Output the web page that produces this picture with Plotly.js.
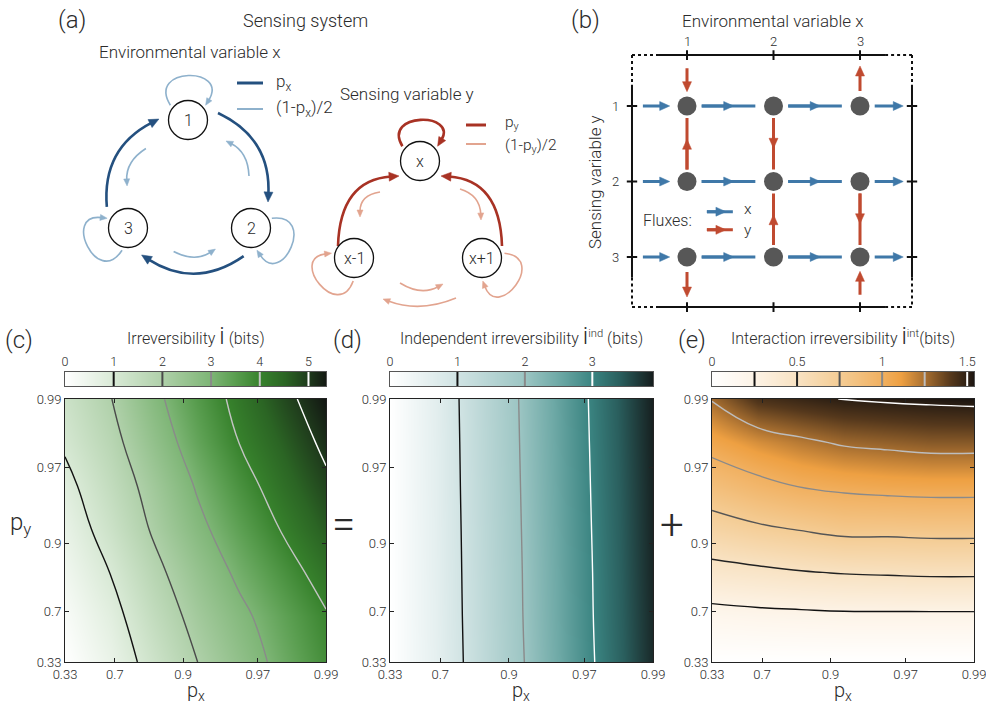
<!DOCTYPE html>
<html><head><meta charset="utf-8">
<script src="https://cdn.plot.ly/plotly-3.0.1.min.js"></script>
<style>html,body{margin:0;padding:0;background:#fff}#chart{width:986px;height:707px}</style>
</head><body><div id="chart"></div>
<script>
// ================= DATA =================
const pxGrid = [0.33, 0.68, 0.84, 0.92, 0.96, 0.98, 0.99];
const pyGrid = [0.33, 0.68, 0.84, 0.92, 0.96, 0.98, 0.99];
const tickP = [0.33, 0.7, 0.9, 0.97, 0.99];
const tickPLabels = ['0.33', '0.7', '0.9', '0.97', '0.99'];

// rows: py (bottom -> top), columns: px (left -> right)
const irrTotal = [
  [0.00, 0.55, 1.28, 1.99, 2.61, 3.22, 3.80],
  [0.17, 0.76, 1.54, 2.24, 2.84, 3.40, 3.95],
  [0.38, 1.02, 1.80, 2.50, 3.15, 3.71, 4.28],
  [0.58, 1.31, 2.09, 2.81, 3.45, 4.05, 4.62],
  [0.80, 1.54, 2.29, 3.06, 3.73, 4.33, 4.88],
  [1.10, 1.77, 2.58, 3.35, 4.02, 4.57, 5.14],
  [1.30, 1.98, 2.82, 3.55, 4.21, 4.81, 5.38]
];
const irrInd = [
  [0, 0.550, 1.270, 1.980, 2.600, 3.210, 3.80],
  [0, 0.560, 1.290, 2.000, 2.620, 3.230, 3.81],
  [0, 0.570, 1.300, 2.010, 2.630, 3.240, 3.83],
  [0, 0.575, 1.315, 2.025, 2.645, 3.255, 3.84],
  [0, 0.585, 1.330, 2.040, 2.660, 3.270, 3.85],
  [0, 0.590, 1.345, 2.055, 2.675, 3.285, 3.87],
  [0, 0.600, 1.360, 2.070, 2.690, 3.300, 3.88]
];
const irrInt = [
  [0.00, 0.00, 0.00, 0.000, 0.00, 0.00, 0.00],
  [0.18, 0.20, 0.21, 0.220, 0.22, 0.22, 0.22],
  [0.43, 0.46, 0.49, 0.510, 0.52, 0.53, 0.53],
  [0.66, 0.72, 0.76, 0.800, 0.80, 0.81, 0.81],
  [0.87, 0.95, 1.01, 1.040, 1.06, 1.07, 1.07],
  [1.07, 1.16, 1.22, 1.270, 1.29, 1.31, 1.31],
  [1.26, 1.43, 1.47, 1.505, 1.52, 1.53, 1.54]
];
const levelsTotal = [1, 2, 3, 4, 5];
const levelsInd = [1, 2, 3];
const levelsInt = [0.25, 0.5, 0.75, 1, 1.25, 1.5];
const cbTicksTotal = [0, 1, 2, 3, 4, 5];
const cbTicksInd = [0, 1, 2, 3];
const cbTicksInt = [0, 0.5, 1, 1.5];
const cbMaxTotal = 5.36, cbMaxInd = 3.9, cbMaxInt = 1.54;

// panel (b) grid
const gridCols = [1, 2, 3];
const gridRows = [1, 2, 3];
const xFluxFrom = [0.5, 1, 2, 3];
const xFluxTo = [1, 2, 3, 3.5];
const yFluxCol = [1, 1, 1, 2, 2, 3, 3, 3];
const yFluxFrom = [0.5, 2, 3, 1, 3, 1, 2, 3.5];
const yFluxTo = [1, 1, 3.5, 2, 2, 0.5, 3, 3];

// ================= STYLE =================
const FONT = 'Roboto, "Liberation Sans", Arial, sans-serif';
const TXT = '#2b2b2b';
const greenScale = [[0,'#ffffff'],[0.187,'#d8e9d5'],[0.373,'#afd0a9'],[0.56,'#7db575'],[0.65,'#5a9e50'],[0.746,'#37822c'],[0.84,'#2b6524'],[0.93,'#1f3b1c'],[1,'#131813']];
const tealScale = [[0,'#ffffff'],[0.256,'#d0e3e3'],[0.513,'#9cc5c3'],[0.64,'#6ea9a6'],[0.77,'#3a8481'],[0.87,'#2a5f5e'],[1,'#151c1c']];
const orangeScale = [[0,'#ffffff'],[0.162,'#fdf3e6'],[0.325,'#f8e2c2'],[0.487,'#f4cc94'],[0.65,'#f1b060'],[0.72,'#eea042'],[0.81,'#a86f30'],[0.91,'#55381c'],[1,'#1c1510']];
const lineColTotal = ['#111111','#4a4a4a','#8a8a8a','#c4c4c4','#ffffff'];
const lineColInd = ['#111111','#8a8a8a','#ffffff'];
const lineColInt = ['#111111','#222222','#555555','#8a8a8a','#bdbdbd','#ffffff'];

const U = p => -Math.log10(1 - p);
const uMin = U(0.33), uMax = U(0.99);

const traces = [];
const shapes = [];
const annotations = [];

function addPanel(z, levels, lineCols, cs, zmax, xa, ya) {
  const xs = pxGrid.map(U), ys = pyGrid.map(U);
  traces.push({type:'heatmap', x:xs, y:ys, z:z, zsmooth:'best', colorscale:cs, zmin:0, zmax:zmax,
    showscale:false, xaxis:xa, yaxis:ya, hoverinfo:'skip'});
  levels.forEach((L, i) => {
    traces.push({type:'contour', x:xs, y:ys, z:z, autocontour:false,
      contours:{coloring:'none', start:L, end:L + 1e-6, size:1, showlabels:false},
      line:{color:lineCols[i], width:1.4, smoothing:1.3}, showscale:false,
      xaxis:xa, yaxis:ya, hoverinfo:'skip'});
  });
}
function addColorbar(levels, lineCols, cs, zmax, xa, ya) {
  traces.push({type:'heatmap', x:[0, zmax], y:[0, 1], z:[[0, zmax],[0, zmax]], zsmooth:'best',
    colorscale:cs, zmin:0, zmax:zmax, showscale:false, xaxis:xa, yaxis:ya, hoverinfo:'skip'});
  levels.forEach((L, i) => {
    shapes.push({type:'line', xref:xa, yref:ya, x0:L, x1:L, y0:0, y1:1, line:{color:lineCols[i], width:2}});
  });
}
addPanel(irrTotal, levelsTotal, lineColTotal, greenScale, cbMaxTotal, 'x', 'y');
addPanel(irrInd, levelsInd, lineColInd, tealScale, cbMaxInd, 'x2', 'y2');
addPanel(irrInt, levelsInt, lineColInt, orangeScale, cbMaxInt, 'x3', 'y3');
addColorbar(levelsTotal, lineColTotal, greenScale, cbMaxTotal, 'x4', 'y4');
addColorbar(levelsInd, lineColInd, tealScale, cbMaxInd, 'x5', 'y5');
addColorbar(levelsInt, lineColInt, orangeScale, cbMaxInt, 'x6', 'y6');

// ============ panel (b): grid of states ============
const W = 986, H = 707;
const bXdom = [600.5, 929.2], bXrange = [0, 3.8];
const bYdom = [30.5, 332.5], bYrange = [4, 0];
const PXC = (bXdom[1] - bXdom[0]) / (bXrange[1] - bXrange[0]);
const PXR = (bYdom[1] - bYdom[0]) / (bYrange[0] - bYrange[1]);
const BLUE = '#3f78a8', RED = '#c04a30';
const nodeX = [], nodeY = [];
gridRows.forEach(r => gridCols.forEach(c => { nodeX.push(c); nodeY.push(r); }));
traces.push({type:'scatter', mode:'markers', x:nodeX, y:nodeY, xaxis:'x7', yaxis:'y7',
  marker:{size:19, color:'#575757'}, hoverinfo:'skip', showlegend:false});

function bLine(x0, y0, x1, y1, color) {
  shapes.push({type:'line', xref:'x7', yref:'y7', x0:x0, y0:y0, x1:x1, y1:y1, line:{color:color, width:3}});
}
function bArrow(x0, y0, x1, y1, color) {
  const dxp = (x1 - x0) * PXC, dyp = (y1 - y0) * PXR, L = Math.hypot(dxp, dyp);
  const ux = dxp / L, uy = dyp / L, hl = 10, hw = 9;
  bLine(x0, y0, x1 - ux * hl * 0.7 / PXC, y1 - uy * hl * 0.7 / PXR, color);
  const bx = x1 - ux * hl / PXC, by = y1 - uy * hl / PXR, qx = -uy, qy = ux;
  shapes.push({type:'path', xref:'x7', yref:'y7',
    path:`M${x1},${y1} L${bx + qx * hw / 2 / PXC},${by + qy * hw / 2 / PXR} L${bx - qx * hw / 2 / PXC},${by - qy * hw / 2 / PXR} Z`,
    fillcolor:color, line:{color:color, width:0.5}});
}
// horizontal (x) fluxes
gridRows.forEach(r => {
  xFluxFrom.forEach((f, i) => {
    const t = xFluxTo[i];
    if (f % 1 !== 0) { bArrow(t - 0.51, r, t - 0.2, r, BLUE); }
    else if (t % 1 !== 0) { bArrow(f + 0.17, r, f + 0.5, r, BLUE); }
    else { bLine(f + 0.17, r, t - 0.21, r, BLUE); bArrow(f + 0.17, r, (f + t) / 2 + 0.04, r, BLUE); }
  });
});
// vertical (y) fluxes
yFluxCol.forEach((c, i) => {
  const f = yFluxFrom[i], t = yFluxTo[i], d = Math.sign(t - f);
  if (f % 1 !== 0) { bArrow(c, f, c, t - d * 0.19, RED); }
  else if (t % 1 !== 0) { bArrow(c, f + d * 0.2, c, f + d * 0.53, RED); }
  else { bLine(c, f + d * 0.16, c, t - d * 0.16, RED); bArrow(c, f + d * 0.16, c, (f + t) / 2 + d * 0.06, RED); }
});
// legend of fluxes
bLine(1.23, 2.40, 1.53, 2.40, BLUE); bArrow(1.23, 2.40, 1.45, 2.40, BLUE);
bLine(1.23, 2.64, 1.53, 2.64, RED); bArrow(1.23, 2.64, 1.45, 2.64, RED);
// frame
const fL = 0.364, fR = 3.601, fT = 0.325, fB = 3.663;
const solidX = [0.665, 3.29], solidY = [0.72, 3.27];
[fT, fB].forEach(yy => {
  shapes.push({type:'line', xref:'x7', yref:'y7', x0:solidX[0], x1:solidX[1], y0:yy, y1:yy, line:{color:'#111', width:2}});
  shapes.push({type:'line', xref:'x7', yref:'y7', x0:fL, x1:solidX[0], y0:yy, y1:yy, line:{color:'#111', width:2, dash:'dot'}});
  shapes.push({type:'line', xref:'x7', yref:'y7', x0:solidX[1], x1:fR, y0:yy, y1:yy, line:{color:'#111', width:2, dash:'dot'}});
  gridCols.forEach(c => shapes.push({type:'line', xref:'x7', yref:'y7', x0:c, x1:c, y0:yy - 0.065, y1:yy + 0.065, line:{color:'#111', width:2}}));
});
[fL, fR].forEach(xx => {
  shapes.push({type:'line', xref:'x7', yref:'y7', x0:xx, x1:xx, y0:solidY[0], y1:solidY[1], line:{color:'#111', width:2}});
  shapes.push({type:'line', xref:'x7', yref:'y7', x0:xx, x1:xx, y0:fT, y1:solidY[0], line:{color:'#111', width:2, dash:'dot'}});
  shapes.push({type:'line', xref:'x7', yref:'y7', x0:xx, x1:xx, y0:solidY[1], y1:fB, line:{color:'#111', width:2, dash:'dot'}});
  gridRows.forEach(r => shapes.push({type:'line', xref:'x7', yref:'y7', x0:xx - 0.06, x1:xx + 0.06, y0:r, y1:r, line:{color:'#111', width:2}}));
});
gridCols.forEach(c => annotations.push({xref:'x7', yref:'y7', x:c, y:fT - 0.18, text:String(c), showarrow:false, font:{size:13, color:TXT}}));
gridRows.forEach(r => annotations.push({xref:'x7', yref:'y7', x:fL - 0.19, y:r, text:String(r), showarrow:false, font:{size:13, color:TXT}}));

// ============ panel (a): cycle diagrams (pixel overlay axis) ============
function pol(N, r, deg) { const a = deg * Math.PI / 180; return [N[0] + r * Math.cos(a), N[1] + r * Math.sin(a)]; }
function rot(p, c, deg) { const a = deg * Math.PI / 180, dx = p[0] - c[0], dy = p[1] - c[1];
  return [c[0] + dx * Math.cos(a) - dy * Math.sin(a), c[1] + dx * Math.sin(a) + dy * Math.cos(a)]; }
function head(T, ux, uy, color, hl, hw) {
  const B = [T[0] - ux * hl, T[1] - uy * hl], qx = -uy, qy = ux;
  shapes.push({type:'path', xref:'x8', yref:'y8',
    path:`M${T[0]},${T[1]} L${B[0] + qx * hw / 2},${B[1] + qy * hw / 2} L${B[0] - qx * hw / 2},${B[1] - qy * hw / 2} Z`,
    fillcolor:color, line:{color:color, width:0.5}});
}
function qArrow(P0, C, P1, color, lw, hl, hw) {
  const dx = P1[0] - C[0], dy = P1[1] - C[1], L = Math.hypot(dx, dy), ux = dx / L, uy = dy / L;
  const E = [P1[0] - ux * hl * 0.8, P1[1] - uy * hl * 0.8];
  shapes.push({type:'path', xref:'x8', yref:'y8', path:`M${P0[0]},${P0[1]} Q${C[0]},${C[1]} ${E[0]},${E[1]}`,
    line:{color:color, width:lw}, fillcolor:'rgba(0,0,0,0)'});
  head(P1, ux, uy, color, hl, hw);
}
function selfLoop(N, phi, color, lw, hl, hw, rc) {
  const S = pol(N, 23, phi - 50), C1 = pol(N, rc, phi - 38), C2 = pol(N, rc, phi + 38), E = pol(N, 23, phi + 50);
  const dx = E[0] - C2[0], dy = E[1] - C2[1], L = Math.hypot(dx, dy), ux = dx / L, uy = dy / L;
  const E2 = [E[0] - ux * hl * 0.8, E[1] - uy * hl * 0.8];
  shapes.push({type:'path', xref:'x8', yref:'y8',
    path:`M${S[0]},${S[1]} C${C1[0]},${C1[1]} ${C2[0]},${C2[1]} ${E2[0]},${E2[1]}`,
    line:{color:color, width:lw}, fillcolor:'rgba(0,0,0,0)'});
  head(E, ux, uy, color, hl, hw);
}
function node(N, label) {
  shapes.push({type:'circle', xref:'x8', yref:'y8', x0:N[0] - 19.5, x1:N[0] + 19.5, y0:N[1] - 19.5, y1:N[1] + 19.5,
    line:{color:'#111', width:1.3}, fillcolor:'#fff'});
  annotations.push({xref:'x8', yref:'y8', x:N[0], y:N[1], text:label, showarrow:false, font:{size:16, color:TXT}});
}
function txt(x, y, text, size, extra) {
  annotations.push(Object.assign({xref:'x8', yref:'y8', x:x, y:y, text:text, showarrow:false,
    font:{size:size, color:TXT}}, extra || {}));
}
// environmental variable x
const ENV_D = '#24507f', ENV_L = '#8eb1cc';
const envC = [189.5, 192];
const envNodes = [[188, 120], [251, 228], [128, 228]];
const envLabels = ['1', '2', '3'];
const envLoop = [-90, 25, 155];
[0, 120, 240].forEach(a => {
  qArrow(rot([218, 113], envC, a), rot([271, 138], envC, a), rot([268, 202], envC, a), ENV_D, 2.6, 10, 9);
  qArrow(rot([249, 176], envC, a), rot([248, 152], envC, a), rot([226, 141], envC, a), ENV_L, 1.6, 7, 6);
});
envNodes.forEach((N, i) => { selfLoop(N, envLoop[i], ENV_L, 1.6, 7, 6, 68); node(N, envLabels[i]); });
shapes.push({type:'line', xref:'x8', yref:'y8', x0:237, x1:263, y0:83, y1:83, line:{color:ENV_D, width:3}});
shapes.push({type:'line', xref:'x8', yref:'y8', x0:237, x1:263, y0:109, y1:109, line:{color:ENV_L, width:2}});
txt(274, 82, 'p<sub>x</sub>', 17, {xanchor:'left'});
txt(274, 108, '(1-p<sub>x</sub>)/2', 17, {xanchor:'left'});
// sensing variable y
const SEN_D = '#a83224', SEN_L = '#e2a48f';
const senNodes = [[420, 161], [354, 258], [482, 258]];
const senLabels = ['x', 'x-1', 'x+1'];
const senLoop = [-90, 142, 38];
qArrow([338, 246], [340, 180], [399, 176], SEN_D, 2.6, 10, 9);
qArrow([502, 246], [500, 180], [441, 176], SEN_D, 2.6, 10, 9);
qArrow([380, 192], [360, 195], [360, 217], SEN_L, 1.6, 7, 6);
qArrow([460, 189], [480, 195], [481, 220], SEN_L, 1.6, 7, 6);
qArrow([400, 283], [421, 296], [443, 284], SEN_L, 1.6, 7, 6);
qArrow([456, 298], [420, 313], [383, 299], SEN_L, 1.6, 7, 6);
senNodes.forEach((N, i) => {
  if (i === 0) selfLoop(N, senLoop[i], SEN_D, 2.6, 9, 8, 62);
  else selfLoop(N, senLoop[i], SEN_L, 1.6, 7, 6, 66);
  node(N, senLabels[i]);
});
shapes.push({type:'line', xref:'x8', yref:'y8', x0:466, x1:486, y0:125, y1:125, line:{color:SEN_D, width:3}});
shapes.push({type:'line', xref:'x8', yref:'y8', x0:466, x1:486, y0:144, y1:144, line:{color:SEN_L, width:2}});
txt(503, 123, 'p<sub>y</sub>', 15.5, {xanchor:'left'});
txt(503, 146, '(1-p<sub>y</sub>)/2', 15.5, {xanchor:'left'});

// ============ text ============
txt(72, 20, '(a)', 24);
txt(305, 20, 'Sensing system', 18);
txt(190, 52, 'Environmental variable x', 17);
txt(407, 94, 'Sensing variable y', 17);
txt(585, 20, '(b)', 24);
txt(773, 21, 'Environmental variable x', 17);
txt(595, 182, 'Sensing variable y', 17, {textangle:-90});
txt(641, 220, 'Fluxes:', 16, {xanchor:'left'});
txt(742, 209, 'x', 15.5, {xanchor:'left'});
txt(742, 230, 'y', 15.5, {xanchor:'left'});
txt(19, 340, '(c)', 24);
txt(347, 340, '(d)', 24);
txt(692, 340, '(e)', 24);
const bigI = '<span style="font-size:24px">i</span>';
txt(196, 336, 'Irreversibility ' + bigI + ' (bits)', 16);
txt(521, 336, 'Independent irreversibility ' + bigI + '<sup>ind</sup> (bits)', 16);
txt(843, 336, 'Interaction irreversibility ' + bigI + '<sup>int</sup>(bits)', 16);
txt(20, 523, 'p<sub>y</sub>', 24);
txt(343, 524, '=', 42);
txt(672, 524, '+', 42);
txt(196, 706, 'p<sub>x</sub>', 20, {yanchor:'bottom'});
txt(521, 706, 'p<sub>x</sub>', 20, {yanchor:'bottom'});
txt(843, 706, 'p<sub>x</sub>', 20, {yanchor:'bottom'});

// ============ layout ============
const mainY = [1 - 662 / H, 1 - 399 / H];
const cbY = [1 - 386 / H, 1 - 372 / H];
const cX = [65 / W, 326 / W], dX = [390 / W, 653 / W], eX = [712 / W, 974 / W];
function mainX(dom, anchor) {
  return {domain:dom, anchor:anchor, range:[uMin, uMax], tickvals:tickP.map(U), ticktext:tickPLabels,
    ticks:'inside', ticklen:4, tickcolor:'#222', showline:true, linecolor:'#222', linewidth:1, mirror:'ticks',
    showgrid:false, zeroline:false, tickfont:{size:13, color:TXT}, ticklabeloverflow:'allow', fixedrange:true};
}
function mainYax(anchor) {
  return {domain:mainY, anchor:anchor, range:[uMin, uMax], tickvals:tickP.map(U), ticktext:tickPLabels,
    ticks:'inside', ticklen:4, tickcolor:'#222', showline:true, linecolor:'#222', linewidth:1, mirror:'ticks',
    showgrid:false, zeroline:false, tickfont:{size:13, color:TXT}, ticklabeloverflow:'allow', fixedrange:true};
}
function cbX(dom, anchor, zmax, tv) {
  return {domain:dom, anchor:anchor, range:[0, zmax], side:'top', tickvals:tv, ticktext:tv.map(String), ticks:'',
    showline:true, linecolor:'#555', linewidth:1, mirror:true, showgrid:false, zeroline:false,
    tickfont:{size:12.5, color:TXT}, ticklabeloverflow:'allow', fixedrange:true};
}
function cbYax(anchor) {
  return {domain:cbY, anchor:anchor, range:[0, 1], showticklabels:false, ticks:'', showline:true,
    linecolor:'#555', linewidth:1, mirror:true, showgrid:false, zeroline:false, fixedrange:true};
}
const hidden = {visible:false, showgrid:false, zeroline:false, fixedrange:true};
const layout = {
  width:W, height:H, margin:{l:0, r:0, t:0, b:0}, paper_bgcolor:'#fff', plot_bgcolor:'rgba(0,0,0,0)',
  showlegend:false, font:{family:FONT, size:12, color:TXT, weight:300},
  xaxis:mainX(cX, 'y'), yaxis:mainYax('x'),
  xaxis2:mainX(dX, 'y2'), yaxis2:mainYax('x2'),
  xaxis3:mainX(eX, 'y3'), yaxis3:mainYax('x3'),
  xaxis4:cbX(cX, 'y4', cbMaxTotal, cbTicksTotal), yaxis4:cbYax('x4'),
  xaxis5:cbX(dX, 'y5', cbMaxInd, cbTicksInd), yaxis5:cbYax('x5'),
  xaxis6:cbX(eX, 'y6', cbMaxInt, cbTicksInt), yaxis6:cbYax('x6'),
  xaxis7:Object.assign({domain:[bXdom[0] / W, bXdom[1] / W], anchor:'y7', range:bXrange}, hidden),
  yaxis7:Object.assign({domain:[1 - bYdom[1] / H, 1 - bYdom[0] / H], anchor:'x7', range:bYrange}, hidden),
  xaxis8:Object.assign({domain:[0, 1], anchor:'y8', range:[0, W]}, hidden),
  yaxis8:Object.assign({domain:[0, 1], anchor:'x8', range:[H, 0]}, hidden),
  shapes:shapes, annotations:annotations
};
// invisible trace so the overlay axes exist
traces.push({type:'scatter', x:[0], y:[0], xaxis:'x8', yaxis:'y8', mode:'markers', marker:{size:1, color:'rgba(0,0,0,0)'}, hoverinfo:'skip'});
Plotly.newPlot('chart', traces, layout, {staticPlot:true, displayModeBar:false});
</script></body></html>
